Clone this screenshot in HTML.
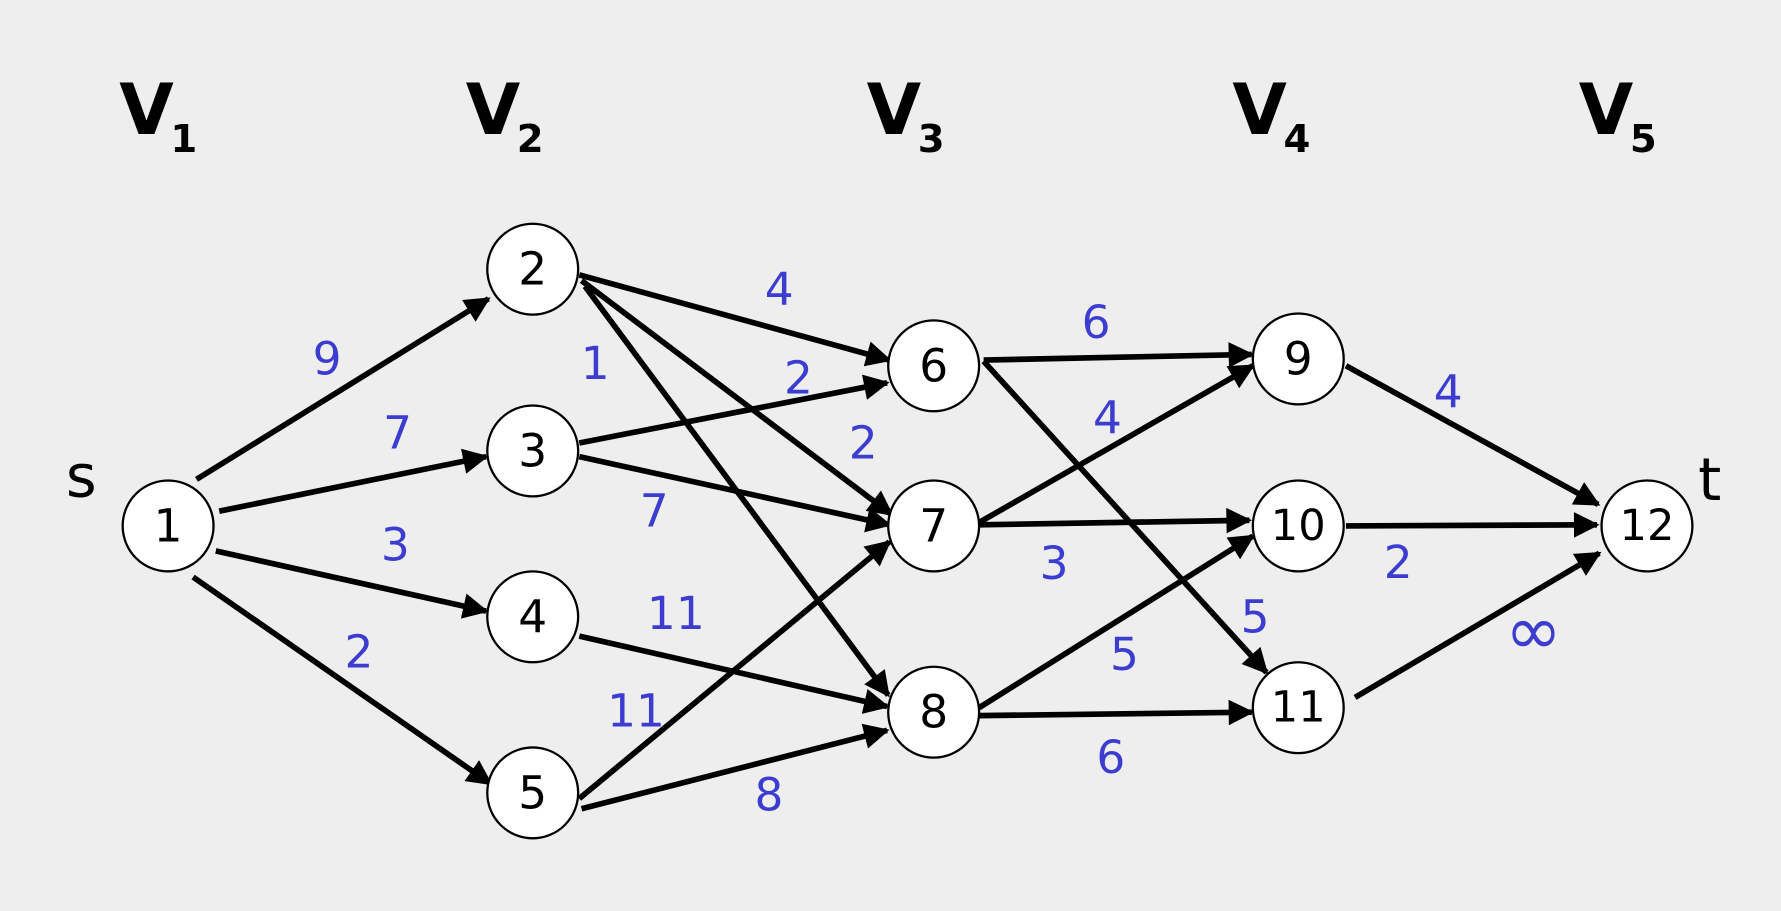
<!DOCTYPE html>
<html><head><meta charset="utf-8"><style>
html,body{margin:0;padding:0;background:#eeeeee;}
svg{display:block}
</style></head><body>
<svg width="1781" height="911" viewBox="0 0 1568 802" preserveAspectRatio="none" xmlns="http://www.w3.org/2000/svg">
<defs>
<marker id="a" viewBox="0 0 10 10" refX="9" refY="5" markerWidth="5" markerHeight="4.5" orient="auto" markerUnits="strokeWidth"><path d="M0,0 L10,5 L0,10 z" fill="#000"/></marker>
</defs>
<rect width="1568" height="802" fill="#eeeeee"/>
<g font-family="Verdana, 'DejaVu Sans', sans-serif" font-weight="bold" fill="#000">
<text x="105" y="118" font-size="62">V</text><text x="150" y="134" font-size="34">1</text>
<text x="410" y="118" font-size="62">V</text><text x="455" y="134" font-size="34">2</text>
<text x="763" y="118" font-size="62">V</text><text x="808" y="134" font-size="34">3</text>
<text x="1085" y="118" font-size="62">V</text><text x="1130" y="134" font-size="34">4</text>
<text x="1390" y="118" font-size="62">V</text><text x="1435" y="134" font-size="34">5</text>
</g>
<g font-family="'DejaVu Sans', sans-serif" font-size="52" fill="#000">
<text x="58" y="437">s</text><text x="1495" y="440">t</text>
</g>
<g stroke="#000" stroke-width="5" marker-end="url(#a)">
<line x1="173" y1="422" x2="430" y2="263"/>
<line x1="193" y1="450" x2="428" y2="402"/>
<line x1="190" y1="485" x2="428" y2="538"/>
<line x1="170" y1="508" x2="432" y2="690"/>
<line x1="510" y1="242" x2="783" y2="317"/>
<line x1="512" y1="247" x2="785" y2="453"/>
<line x1="515" y1="252" x2="782" y2="612"/>
<line x1="510" y1="390" x2="781" y2="337"/>
<line x1="510" y1="402" x2="783" y2="462"/>
<line x1="510" y1="560" x2="781" y2="622"/>
<line x1="510" y1="703" x2="783" y2="477"/>
<line x1="512" y1="712" x2="781" y2="643"/>
<line x1="866" y1="317" x2="1102" y2="312"/>
<line x1="866" y1="318" x2="1115" y2="592"/>
<line x1="862" y1="460" x2="1103" y2="322"/>
<line x1="862" y1="462" x2="1100" y2="458"/>
<line x1="862" y1="623" x2="1103" y2="472"/>
<line x1="862" y1="630" x2="1102" y2="627"/>
<line x1="1185" y1="322" x2="1407" y2="444"/>
<line x1="1185" y1="463" x2="1406" y2="462"/>
<line x1="1193" y1="614" x2="1408" y2="487"/>
</g>
<g fill="#fff" stroke="#000" stroke-width="2">
<circle cx="148" cy="463" r="40"/><circle cx="469" cy="237" r="40"/><circle cx="469" cy="397" r="40"/><circle cx="469" cy="543" r="40"/><circle cx="469" cy="698" r="40"/>
<circle cx="822" cy="322" r="40"/><circle cx="822" cy="463" r="40"/><circle cx="822" cy="627" r="40"/>
<circle cx="1143" cy="316" r="40"/><circle cx="1143" cy="463" r="40"/><circle cx="1143" cy="623" r="40"/><circle cx="1450" cy="463" r="40"/>
</g>
<g font-family="'DejaVu Sans', sans-serif" font-size="40" fill="#000" text-anchor="middle" dominant-baseline="central">
<text x="148" y="463">1</text><text x="469" y="237">2</text><text x="469" y="397">3</text><text x="469" y="543">4</text><text x="469" y="698">5</text>
<text x="822" y="322">6</text><text x="822" y="463">7</text><text x="822" y="627">8</text>
<text x="1143" y="316">9</text><text x="1143" y="463" font-size="38">10</text><text x="1143" y="623" font-size="38">11</text><text x="1450" y="463" font-size="38">12</text>
</g>
<g font-family="'DejaVu Sans', sans-serif" font-size="40" fill="#3c3cd0" text-anchor="middle" dominant-baseline="central">
<text x="288" y="316">9</text><text x="350" y="381">7</text><text x="348" y="480">3</text><text x="316" y="574">2</text>
<text x="686" y="255">4</text><text x="524" y="320">1</text><text x="703" y="333">2</text><text x="760" y="390">2</text>
<text x="576" y="450">7</text><text x="595" y="540">11</text><text x="560" y="626">11</text><text x="677" y="700">8</text>
<text x="965" y="284">6</text><text x="975" y="368">4</text><text x="928" y="496">3</text><text x="990" y="576">5</text>
<text x="1105" y="543">5</text><text x="978" y="667">6</text><text x="1275" y="345">4</text><text x="1231" y="495">2</text>
<text x="1350" y="556" font-size="60">∞</text>
</g>
</svg>
</body></html>
